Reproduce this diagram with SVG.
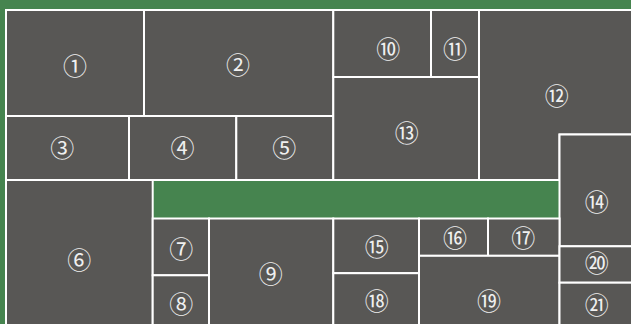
<svg xmlns="http://www.w3.org/2000/svg" width="631" height="324" viewBox="0 0 631 324">
<style>
.n{fill:#585755;stroke:#ffffff;stroke-width:2}
.t{fill:#efefef;font-family:"Noto Sans CJK JP","DejaVu Sans",sans-serif;font-size:24px;text-anchor:middle;dominant-baseline:central}
</style>
<rect x="0" y="0" width="631" height="324" fill="#46844f"/>
<g id="connectors"></g>
<g id="n1"><rect class="n" x="6" y="10" width="138" height="106"/><text class="t" x="75" y="64">①</text></g>
<g id="n2"><rect class="n" x="144" y="10" width="189.3" height="106"/><text class="t" x="238" y="63.5">②</text></g>
<g id="n3"><rect class="n" x="6" y="116" width="123" height="64"/><text class="t" x="62.3" y="146.8">③</text></g>
<g id="n4"><rect class="n" x="129" y="116" width="107.3" height="64"/><text class="t" x="182.6" y="146.8">④</text></g>
<g id="n5"><rect class="n" x="236.3" y="116" width="97" height="64"/><text class="t" x="284.3" y="146.8">⑤</text></g>
<g id="n6"><rect class="n" x="6" y="180" width="146.7" height="160"/><text class="t" x="79.3" y="258.5">⑥</text></g>
<g id="n7"><rect class="n" x="152.7" y="218.5" width="56.3" height="56.8"/><text class="t" x="181.3" y="247.2">⑦</text></g>
<g id="n8"><rect class="n" x="152.7" y="275.3" width="56.3" height="60"/><text class="t" x="181.3" y="302.5">⑧</text></g>
<g id="n9"><rect class="n" x="209" y="218.5" width="124.3" height="120"/><text class="t" x="270.7" y="272.8">⑨</text></g>
<g id="n10"><rect class="n" x="333.3" y="10" width="97.7" height="67"/><text class="t" x="388.3" y="47.8">⑩</text></g>
<g id="n11"><rect class="n" x="431" y="10" width="48" height="67"/><text class="t" x="455" y="47.5">⑪</text></g>
<g id="n12"><path class="n" d="M479 10H640V134.5H559.5V180H479Z"/><text class="t" x="556.7" y="94.2">⑫</text></g>
<g id="n13"><rect class="n" x="333.3" y="77" width="145.7" height="103"/><text class="t" x="406.7" y="131.8">⑬</text></g>
<g id="n14"><rect class="n" x="559.5" y="134.5" width="80" height="111.8"/><text class="t" x="596.7" y="200.2">⑭</text></g>
<g id="n15"><rect class="n" x="333.3" y="218.5" width="85.7" height="54.7"/><text class="t" x="376.7" y="245.8">⑮</text></g>
<g id="n16"><rect class="n" x="419" y="218.5" width="69" height="37.3"/><text class="t" x="455" y="236.2">⑯</text></g>
<g id="n17"><rect class="n" x="488" y="218.5" width="71.5" height="37.3"/><text class="t" x="523.3" y="236.2">⑰</text></g>
<g id="n18"><rect class="n" x="333.3" y="273.2" width="85.7" height="60"/><text class="t" x="376.7" y="299.2">⑱</text></g>
<g id="n19"><rect class="n" x="419" y="255.8" width="140.5" height="80"/><text class="t" x="489" y="299.5">⑲</text></g>
<g id="n20"><rect class="n" x="559.5" y="246.3" width="80" height="36.4"/><text class="t" x="596.7" y="261.8">⑳</text></g>
<g id="n21"><rect class="n" x="559.5" y="282.7" width="80" height="60"/><text class="t" x="596.7" y="303.5">㉑</text></g>
</svg>
